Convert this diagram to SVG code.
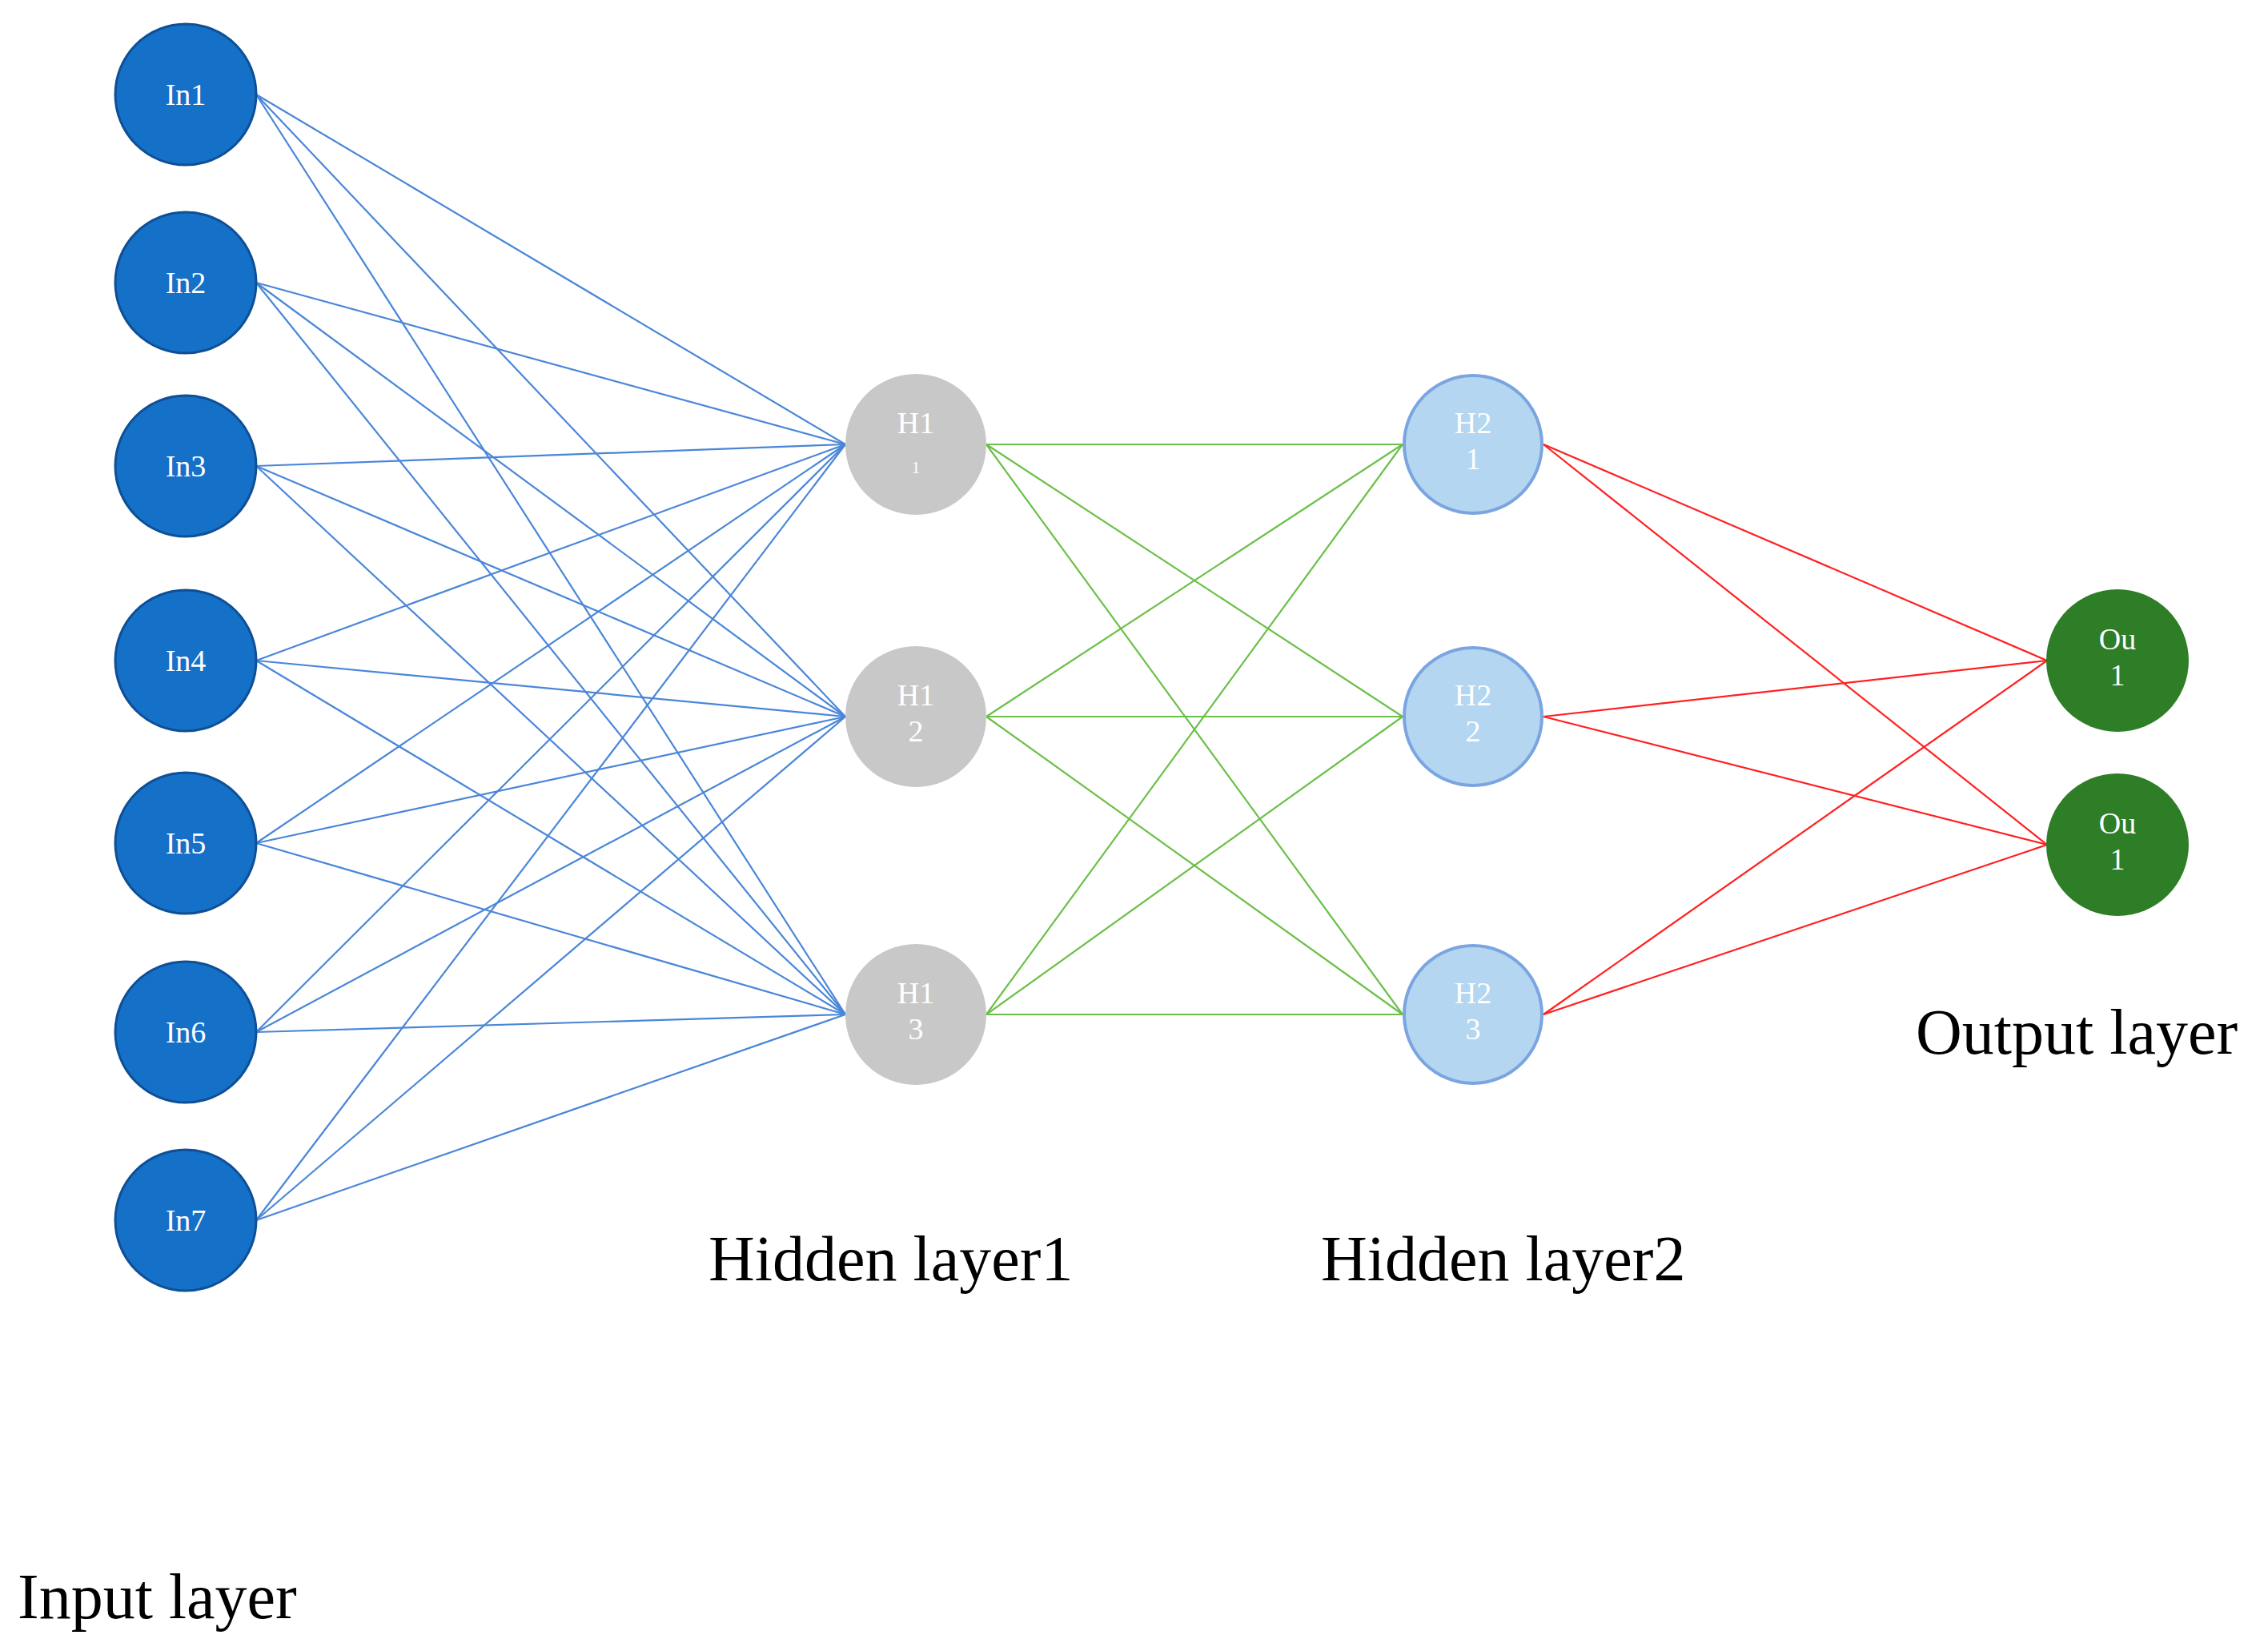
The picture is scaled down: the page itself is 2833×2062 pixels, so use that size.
<svg xmlns="http://www.w3.org/2000/svg" width="2833" height="2062" viewBox="0 0 2833 2062">
<style>
.b{stroke:#4a86d8;stroke-width:2.2}
.g{stroke:#6cc04a;stroke-width:2.2}
.r{stroke:#ff2020;stroke-width:2.2}
.in{fill:#1570c8;stroke:#0e4f96;stroke-width:3}
.h1{fill:#c8c8c8}
.h2{fill:#b4d6f0;stroke:#7ba5e0;stroke-width:4}
.o{fill:#2e7d27}
.t{font-family:"Liberation Serif",serif;fill:#fff;font-size:38px;text-anchor:middle}
.L{font-family:"Liberation Serif",serif;fill:#000;font-size:80px}
</style>
<g id="connectors">
<g class="b">
<line x1="320" y1="118" x2="1056" y2="555"/><line x1="320" y1="118" x2="1056" y2="895"/><line x1="320" y1="118" x2="1056" y2="1267"/>
<line x1="320" y1="353" x2="1056" y2="555"/><line x1="320" y1="353" x2="1056" y2="895"/><line x1="320" y1="353" x2="1056" y2="1267"/>
<line x1="320" y1="582" x2="1056" y2="555"/><line x1="320" y1="582" x2="1056" y2="895"/><line x1="320" y1="582" x2="1056" y2="1267"/>
<line x1="320" y1="825" x2="1056" y2="555"/><line x1="320" y1="825" x2="1056" y2="895"/><line x1="320" y1="825" x2="1056" y2="1267"/>
<line x1="320" y1="1053" x2="1056" y2="555"/><line x1="320" y1="1053" x2="1056" y2="895"/><line x1="320" y1="1053" x2="1056" y2="1267"/>
<line x1="320" y1="1289" x2="1056" y2="555"/><line x1="320" y1="1289" x2="1056" y2="895"/><line x1="320" y1="1289" x2="1056" y2="1267"/>
<line x1="320" y1="1524" x2="1056" y2="555"/><line x1="320" y1="1524" x2="1056" y2="895"/><line x1="320" y1="1524" x2="1056" y2="1267"/>
</g>
<g class="g">
<line x1="1232" y1="555" x2="1752" y2="555"/><line x1="1232" y1="555" x2="1752" y2="895"/><line x1="1232" y1="555" x2="1752" y2="1267"/>
<line x1="1232" y1="895" x2="1752" y2="555"/><line x1="1232" y1="895" x2="1752" y2="895"/><line x1="1232" y1="895" x2="1752" y2="1267"/>
<line x1="1232" y1="1267" x2="1752" y2="555"/><line x1="1232" y1="1267" x2="1752" y2="895"/><line x1="1232" y1="1267" x2="1752" y2="1267"/>
</g>
<g class="r">
<line x1="1928" y1="555" x2="2557" y2="825"/><line x1="1928" y1="555" x2="2557" y2="1055"/>
<line x1="1928" y1="895" x2="2557" y2="825"/><line x1="1928" y1="895" x2="2557" y2="1055"/>
<line x1="1928" y1="1267" x2="2557" y2="825"/><line x1="1928" y1="1267" x2="2557" y2="1055"/>
</g>
</g>
<g id="in1"><circle class="in" cx="232" cy="118" r="88"/><text class="t" x="232" y="131">In1</text></g>
<g id="in2"><circle class="in" cx="232" cy="353" r="88"/><text class="t" x="232" y="366">In2</text></g>
<g id="in3"><circle class="in" cx="232" cy="582" r="88"/><text class="t" x="232" y="595">In3</text></g>
<g id="in4"><circle class="in" cx="232" cy="825" r="88"/><text class="t" x="232" y="838">In4</text></g>
<g id="in5"><circle class="in" cx="232" cy="1053" r="88"/><text class="t" x="232" y="1066">In5</text></g>
<g id="in6"><circle class="in" cx="232" cy="1289" r="88"/><text class="t" x="232" y="1302">In6</text></g>
<g id="in7"><circle class="in" cx="232" cy="1524" r="88"/><text class="t" x="232" y="1537">In7</text></g>
<g id="h11"><circle class="h1" cx="1144" cy="555" r="88"/><text class="t" x="1144" y="541">H1</text><text class="t" x="1144" y="591" style="font-size:22px">1</text></g>
<g id="h12"><circle class="h1" cx="1144" cy="895" r="88"/><text class="t" x="1144" y="881">H1</text><text class="t" x="1144" y="926">2</text></g>
<g id="h13"><circle class="h1" cx="1144" cy="1267" r="88"/><text class="t" x="1144" y="1253">H1</text><text class="t" x="1144" y="1298">3</text></g>
<g id="h21"><circle class="h2" cx="1840" cy="555" r="86"/><text class="t" x="1840" y="541">H2</text><text class="t" x="1840" y="586">1</text></g>
<g id="h22"><circle class="h2" cx="1840" cy="895" r="86"/><text class="t" x="1840" y="881">H2</text><text class="t" x="1840" y="926">2</text></g>
<g id="h23"><circle class="h2" cx="1840" cy="1267" r="86"/><text class="t" x="1840" y="1253">H2</text><text class="t" x="1840" y="1298">3</text></g>
<g id="ou1"><circle class="o" cx="2645" cy="825" r="89"/><text class="t" x="2645" y="811">Ou</text><text class="t" x="2645" y="856">1</text></g>
<g id="ou2"><circle class="o" cx="2645" cy="1055" r="89"/><text class="t" x="2645" y="1041">Ou</text><text class="t" x="2645" y="1086">1</text></g>
<g id="labels">
<text class="L" x="885" y="1599">Hidden layer1</text>
<text class="L" x="1650" y="1599">Hidden layer2</text>
<text class="L" x="2393" y="1316">Output layer</text>
<text class="L" x="22" y="2021">Input layer</text>
</g>
</svg>
